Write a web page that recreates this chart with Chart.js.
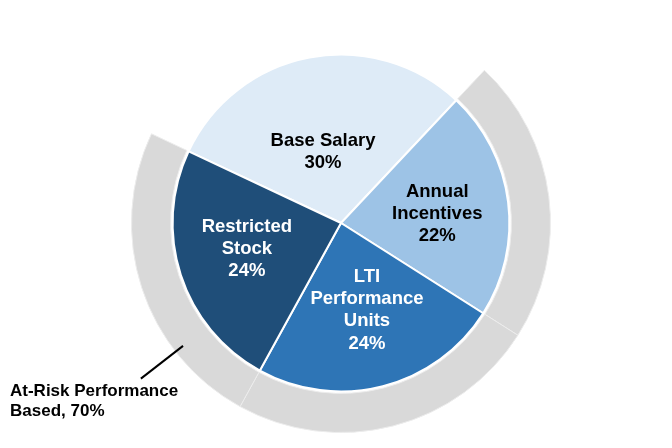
<!DOCTYPE html>
<html>
<head>
<meta charset="utf-8">
<script src="https://cdn.jsdelivr.net/npm/chart.js@4/dist/chart.umd.min.js"></script>
<style>
  html, body { margin: 0; padding: 0; background: #fff; }
  #wrap { width: 672px; height: 448px; }
</style>
</head>
<body>
<div id="wrap"><canvas id="myChart"></canvas></div>
<script>
// data
const categories = ['Base Salary', 'Annual Incentives', 'LTI Performance Units', 'Restricted Stock'];
const labelLines = [['Base Salary'], ['Annual', 'Incentives'], ['LTI', 'Performance', 'Units'], ['Restricted', 'Stock']];
const shares = [30, 22, 24, 24];
const atRisk = [false, true, true, true];
const atRiskText = 'At-Risk Performance Based';

const sliceColors = ['#deebf7', '#9dc3e6', '#2e75b6', '#1f4e79'];
const textColors = ['#000', '#000', '#fff', '#fff'];
const labelRadius = [0.436, 0.574, 0.54, 0.58];
const labelShift = [-3.4, 1.8, -2.2, 2.5]; // degrees off the slice middle

const atRiskTotal = shares.reduce((s, v, i) => s + (atRisk[i] ? v : 0), 0);

const FONT = '"Liberation Sans", Arial, sans-serif';

const sliceLabels = {
  id: 'sliceLabels',
  afterDatasetsDraw(chart) {
    const ctx = chart.ctx;
    const pie = chart.getDatasetMeta(2);
    const ring = chart.getDatasetMeta(0);
    ctx.save();

    // labels inside the slices
    ctx.textAlign = 'center';
    ctx.textBaseline = 'middle';
    ctx.font = 'bold 18.5px ' + FONT;
    pie.data.forEach(function (arc, i) {
      const p = arc.getProps(['x', 'y', 'startAngle', 'endAngle', 'outerRadius']);
      const a = (p.startAngle + p.endAngle) / 2 + labelShift[i] * Math.PI / 180;
      const r = p.outerRadius * labelRadius[i];
      const cx = p.x + Math.cos(a) * r;
      const cy = p.y + Math.sin(a) * r;
      const lines = labelLines[i].concat([shares[i] + '%']);
      const lh = 22.3;
      const top = cy - (lines.length - 1) * lh / 2;
      ctx.fillStyle = textColors[i];
      lines.forEach(function (t, k) { ctx.fillText(t, cx, top + k * lh); });
    });

    // leader line from the at-risk ring
    const seg = ring.data[3].getProps(['x', 'y', 'startAngle', 'endAngle', 'innerRadius', 'outerRadius']);
    const la = seg.startAngle + (seg.endAngle - seg.startAngle) * 0.27;
    const r1 = seg.innerRadius + (seg.outerRadius - seg.innerRadius) * 0.76;
    const r2 = seg.outerRadius + 44;
    const x1 = seg.x + Math.cos(la) * r1, y1 = seg.y + Math.sin(la) * r1;
    const x2 = seg.x + Math.cos(la) * r2, y2 = seg.y + Math.sin(la) * r2;
    ctx.strokeStyle = '#000';
    ctx.lineWidth = 2;
    ctx.beginPath();
    ctx.moveTo(x1, y1);
    ctx.lineTo(x2, y2);
    ctx.stroke();

    ctx.fillStyle = '#000';
    ctx.textAlign = 'left';
    ctx.font = 'bold 17px ' + FONT;
    const words = atRiskText.split(' ');
    ctx.fillText(words.slice(0, 2).join(' '), chart.chartArea.left, y2 + 13);
    ctx.fillText(words.slice(2).join(' ') + ', ' + atRiskTotal + '%', chart.chartArea.left, y2 + 33);
    ctx.restore();
  }
};

const ctx = document.getElementById('myChart');
const myChart = new Chart(ctx, {
  type: 'pie',
  data: {
    labels: categories,
    datasets: [{
      // outer at-risk ring
      data: shares,
      backgroundColor: atRisk.map(v => v ? '#d9d9d9' : 'rgba(0,0,0,0)'),
      borderColor: atRisk.map(v => v ? '#ececec' : 'rgba(0,0,0,0)'),
      borderWidth: atRisk.map(v => v ? 1 : 0),
      weight: 39
    }, {
      // gap
      data: [1],
      backgroundColor: 'rgba(0,0,0,0)',
      borderWidth: 0,
      weight: 2
    }, {
      data: shares,
      backgroundColor: sliceColors,
      borderColor: '#fff',
      borderWidth: 2,
      weight: 168
    }]
  },
  options: {
    responsive: true,
    maintainAspectRatio: false,
    animation: false,
    rotation: -64.8,
    layout: { padding: { left: 10, right: 0, top: 13, bottom: 15 } },
    plugins: {
      legend: { display: false },
      tooltip: { enabled: false }
    }
  },
  plugins: [sliceLabels]
});
</script>
</body>
</html>
